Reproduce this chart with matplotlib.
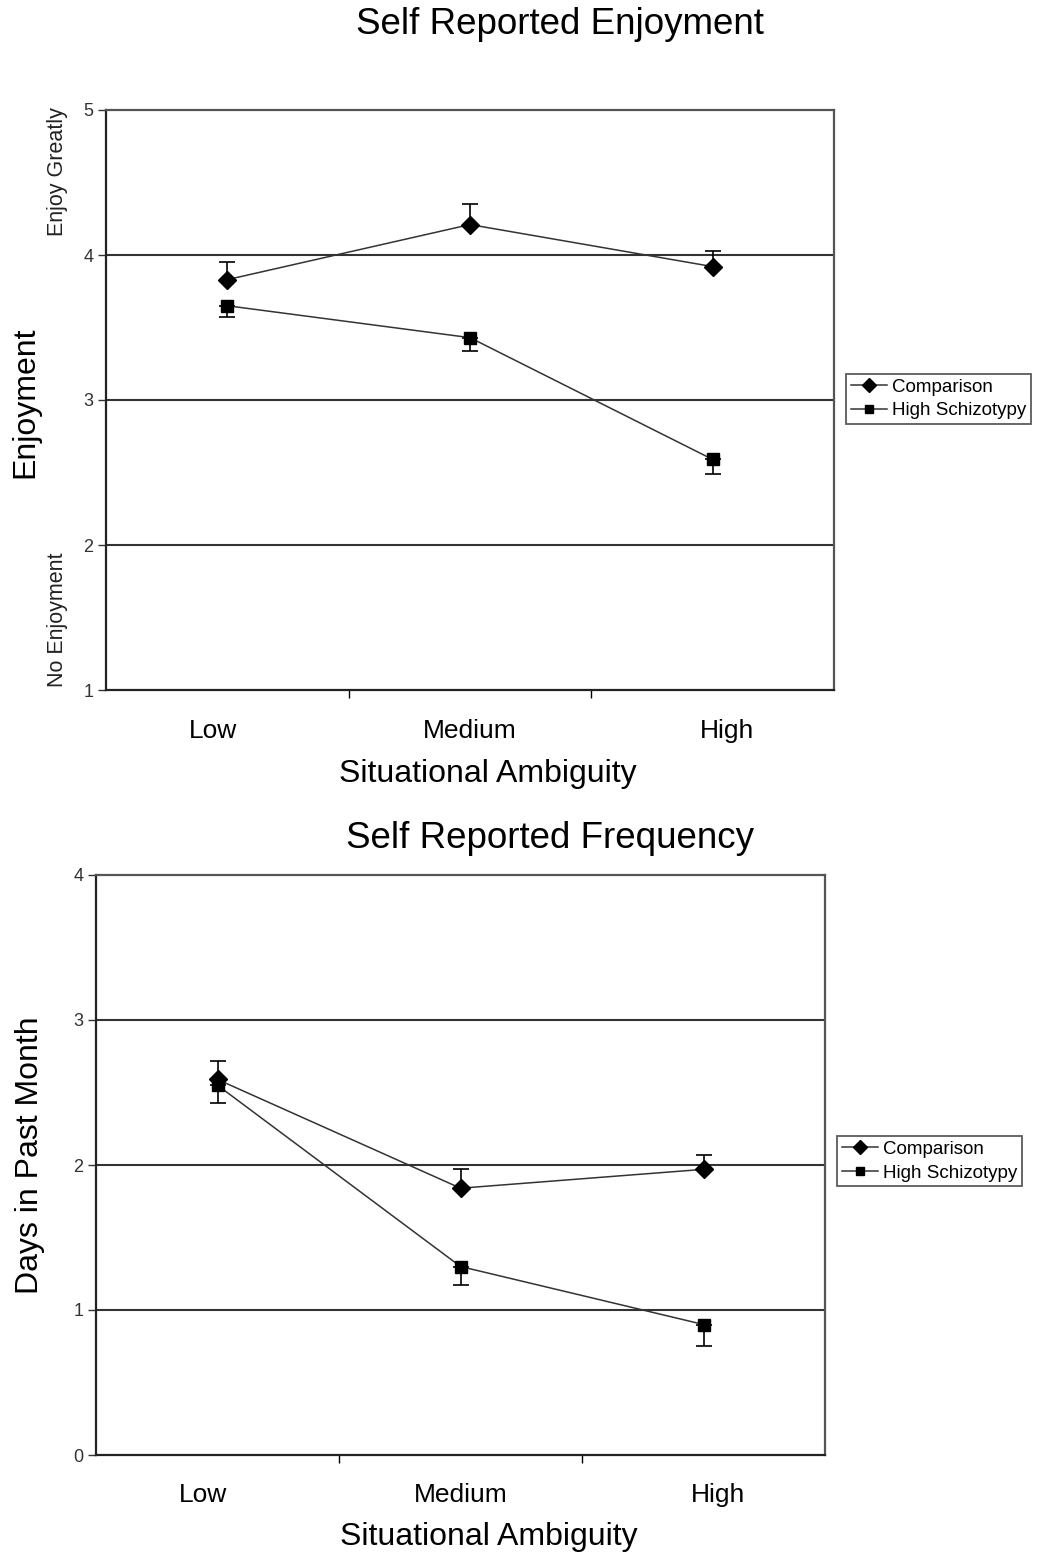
#!/usr/bin/env python3
import numpy as np
import matplotlib
matplotlib.use('Agg')
import matplotlib.pyplot as plt

plt.rcParams['font.family'] = ['Liberation Sans', 'DejaVu Sans']

# カテゴリ
categories = ['Low', 'Medium', 'High']
series_names = ['Comparison', 'High Schizotypy']

# 上段: 楽しさ
enjoy_comp = [3.83, 4.21, 3.92]
enjoy_comp_err = [0.12, 0.14, 0.11]   # 上向きのみ
enjoy_hs = [3.65, 3.43, 2.59]
enjoy_hs_err = [0.08, 0.09, 0.10]     # 下向きのみ

# 下段: 頻度
freq_comp = [2.59, 1.84, 1.97]
freq_comp_err = [0.13, 0.13, 0.10]
freq_hs = [2.55, 1.30, 0.90]
freq_hs_err = [0.12, 0.13, 0.15]

W, H = 1042, 1557
fig = plt.figure(figsize=(W / 100, H / 100), dpi=100)


def px_ax(l, t, r, b):
    return fig.add_axes([l / W, 1 - b / H, (r - l) / W, (b - t) / H])


def draw(ax, comp, comp_err, hs, hs_err, ylim, grid_vals, pad):
    x = np.arange(1, len(categories) + 1)
    ax.set_xlim(0.5, len(categories) + 0.5)
    ax.set_ylim(*ylim)
    for g in grid_vals:
        ax.axhline(g, color='#333333', lw=1.5, zorder=1)
    zeros = np.zeros(len(x))
    ax.errorbar(x, comp, yerr=[zeros, comp_err], fmt='none', ecolor='black',
                elinewidth=1.2, capsize=6, capthick=1.2, zorder=2)
    ax.errorbar(x, hs, yerr=[hs_err, zeros], fmt='none', ecolor='black',
                elinewidth=1.2, capsize=6, capthick=1.2, zorder=2)
    ax.plot(x, comp, color='#333333', lw=1.1, marker='D', ms=9,
            mfc='black', mec='black', label=series_names[0], zorder=3)
    ax.plot(x, hs, color='#333333', lw=1.1, marker='s', ms=8,
            mfc='black', mec='black', label=series_names[1], zorder=3)
    # x軸: 境界に目盛, カテゴリ名は少し外側に広げて配置
    ax.set_xticks(np.arange(1.5, len(categories), 1.0))
    ax.set_xticklabels([])
    ax.set_xticks(x + (x - 2) * 0.06, minor=True)
    ax.set_xticklabels(categories, minor=True, fontsize=19)
    ax.tick_params(axis='x', which='minor', length=0, pad=pad)
    ax.tick_params(axis='x', which='major', direction='out', length=6, width=1)
    ax.set_yticks(np.arange(ylim[0], ylim[1] + 1))
    ax.tick_params(axis='y', direction='out', length=6, width=1,
                   labelsize=13, pad=3, colors='#333333')
    for s in ['left', 'bottom']:
        ax.spines[s].set_linewidth(1.6)
        ax.spines[s].set_color('#222222')
    for s in ['right', 'top']:
        ax.spines[s].set_linewidth(1.6)
        ax.spines[s].set_color('#555555')
    leg = ax.legend(loc='upper left', bbox_to_anchor=(1.017, 0.545),
                    fontsize=13.5, frameon=True, fancybox=False,
                    edgecolor='#333333', handlelength=1.9,
                    handletextpad=0.3, borderpad=0.25, labelspacing=0.35,
                    borderaxespad=0, markerscale=0.75)
    leg.get_frame().set_linewidth(1.3)


# 上段
ax1 = px_ax(106, 110, 834, 690)
draw(ax1, enjoy_comp, enjoy_comp_err, enjoy_hs, enjoy_hs_err,
     (1, 5), [2, 3, 4], 21)
ax1.legend_.set_bbox_to_anchor((1.017, 0.545))
fig.text(560 / W, 1 - 25 / H, 'Self Reported Enjoyment', fontsize=26.5,
         ha='center', va='center')
fig.text(488 / W, 1 - 774 / H, 'Situational Ambiguity', fontsize=23,
         ha='center', va='center')
fig.text(25 / W, 1 - 402 / H, 'Enjoyment', fontsize=23, rotation=90,
         ha='center', va='center')
fig.text(58 / W, 1 - 172 / H, 'Enjoy Greatly', fontsize=15.5, rotation=90,
         ha='center', va='center', color='#222222')
fig.text(58 / W, 1 - 620 / H, 'No Enjoyment', fontsize=15.5, rotation=90,
         ha='center', va='center', color='#222222')

# 下段
ax2 = px_ax(96, 875, 825, 1455)
draw(ax2, freq_comp, freq_comp_err, freq_hs, freq_hs_err,
     (0, 4), [1, 2, 3], 20)
ax2.legend_.set_bbox_to_anchor((1.017, 0.55))
fig.text(550 / W, 1 - 838 / H, 'Self Reported Frequency', fontsize=26.5,
         ha='center', va='center')
fig.text(489 / W, 1 - 1537 / H, 'Situational Ambiguity', fontsize=23,
         ha='center', va='center')
fig.text(30 / W, 1 - 1155 / H, 'Days in Past Month', fontsize=23,
         rotation=90, ha='center', va='center')

plt.savefig('out.png', dpi=100)
plt.close()
